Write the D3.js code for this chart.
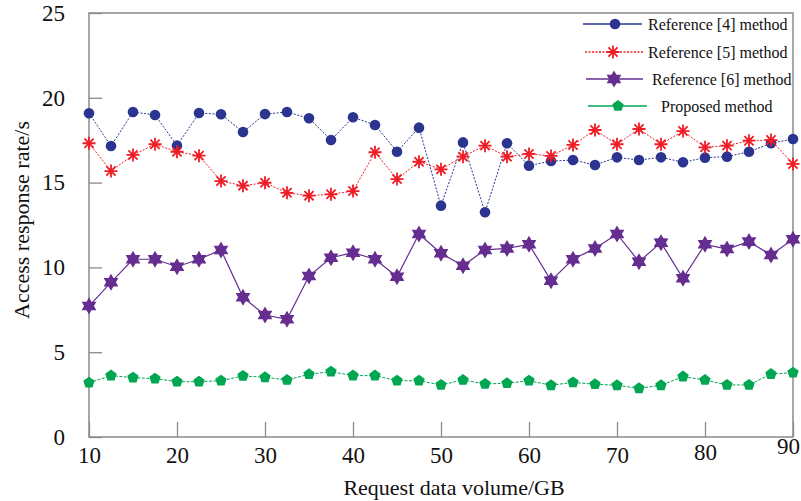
<!DOCTYPE html>
<html lang='en'>
  <head>
    <meta charset='utf-8'>
    <style>
      body { margin: 0; background: #fff; }
      svg { display: block; }
      svg text { font-family: "Liberation Serif", "Times New Roman", Times, serif !important; fill: #111; }
    </style>
  </head>
  <body>
    <div id='chart'></div>

    <script src='https://cdn.jsdelivr.net/npm/d3@7/dist/d3.min.js'></script>
    <script>
      // request volume (GB), one point every 2.5
      var volumes = [10, 12.5, 15, 17.5, 20, 22.5, 25, 27.5, 30, 32.5, 35, 37.5, 40, 42.5, 45, 47.5,
                     50, 52.5, 55, 57.5, 60, 62.5, 65, 67.5, 70, 72.5, 75, 77.5, 80, 82.5, 85, 87.5, 90];

      var ref4 = [19.09, 17.16, 19.16, 18.99, 17.18, 19.10, 19.03, 17.98, 19.04, 19.16, 18.79, 17.51, 18.85, 18.40, 16.82, 18.24,
                  13.64, 17.37, 13.25, 17.32, 16.00, 16.27, 16.33, 16.04, 16.49, 16.33, 16.49, 16.20, 16.47, 16.53, 16.82, 17.32, 17.57];
      var ref5 = [17.32, 15.68, 16.63, 17.26, 16.82, 16.59, 15.09, 14.82, 14.99, 14.40, 14.23, 14.31, 14.50, 16.79, 15.21, 16.23,
                  15.78, 16.53, 17.18, 16.53, 16.69, 16.57, 17.22, 18.10, 17.26, 18.16, 17.26, 18.04, 17.08, 17.18, 17.47, 17.51, 16.10];
      var ref6 = [7.72, 9.12, 10.48, 10.48, 10.04, 10.48, 11.03, 8.24, 7.19, 6.94, 9.49, 10.57, 10.87, 10.48, 9.45, 11.97,
                  10.83, 10.10, 11.03, 11.12, 11.36, 9.22, 10.48, 11.12, 11.97, 10.34, 11.46, 9.36, 11.36, 11.08, 11.52, 10.73, 11.66];
      var proposed = [3.20, 3.62, 3.50, 3.44, 3.26, 3.26, 3.32, 3.60, 3.52, 3.36, 3.70, 3.85, 3.62, 3.62, 3.32, 3.32,
                      3.07, 3.36, 3.13, 3.17, 3.32, 3.05, 3.22, 3.11, 3.05, 2.87, 3.05, 3.56, 3.36, 3.07, 3.07, 3.71, 3.79];

      var xTicks = [10, 20, 30, 40, 50, 60, 70, 80, 90];
      var yTicks = [0, 5, 10, 15, 20, 25];
      var seriesNames = ['Reference [4] method', 'Reference [5] method', 'Reference [6] method', 'Proposed method'];

      var width = 801, height = 501;
      var margin = {top: 13, right: 8, bottom: 64, left: 89};
      var iw = width - margin.left - margin.right,
          ih = height - margin.top - margin.bottom;

      var x = d3.scaleLinear().domain([10, 90]).range([0, iw]);
      var y = d3.scaleLinear().domain([0, 25]).range([ih, 0]);

      var svg = d3.select('#chart').append('svg')
          .attr('width', width)
          .attr('height', height);

      var g = svg.append('g')
          .attr('transform', 'translate(' + margin.left + ',' + margin.top + ')');

      // marker shapes
      function pentagon(r) {
        var pts = d3.range(5).map(function (i) {
          var a = -Math.PI / 2 + i * 2 * Math.PI / 5;
          return [r * Math.cos(a), r * Math.sin(a)];
        });
        return 'M' + pts.join('L') + 'Z';
      }
      function hexagram(r) {
        var pts = d3.range(12).map(function (i) {
          var a = -Math.PI / 2 + i * Math.PI / 6;
          var rr = i % 2 ? r * 0.58 : r;
          return [rr * Math.cos(a), rr * Math.sin(a)];
        });
        return 'M' + pts.join('L') + 'Z';
      }
      function asterisk(r) {
        var d = '';
        for (var i = 0; i < 4; i++) {
          var a = i * Math.PI / 4;
          var c = r * Math.cos(a), s = r * Math.sin(a);
          d += 'M' + (-c) + ',' + (-s) + 'L' + c + ',' + s;
        }
        return d;
      }

      var series = [
        {name: seriesNames[0], values: ref4, color: '#2b3590', dash: '2,1.5', width: 1,
         legendDash: null, marker: function (sel) { sel.append('circle').attr('r', 5.3).attr('fill', '#2b3590'); }},
        {name: seriesNames[1], values: ref5, color: '#ee1c25', dash: '2,1.5', width: 1,
         legendDash: '2,1.5', marker: function (sel) {
           sel.append('path').attr('d', asterisk(6.5)).attr('stroke', '#ee1c25').attr('stroke-width', 1.8).attr('fill', 'none');
         }},
        {name: seriesNames[2], values: ref6, color: '#662d91', dash: null, width: 1.2,
         legendDash: null, marker: function (sel) { sel.append('path').attr('d', hexagram(8.5)).attr('fill', '#662d91'); }},
        {name: seriesNames[3], values: proposed, color: '#00a651', dash: '3,1.5', width: 1,
         legendDash: null, marker: function (sel) { sel.append('path').attr('d', pentagon(6)).attr('fill', '#00a651'); }}
      ];

      // frame
      g.append('rect')
          .attr('width', iw).attr('height', ih)
          .attr('fill', 'none').attr('stroke', '#8a8a8a').attr('stroke-width', 1.5);

      // axes (ticks point inward)
      var yAxis = g.append('g')
          .call(d3.axisLeft(y).tickValues(yTicks).tickSize(-13).tickPadding(24).tickFormat(d3.format('d')));
      var xAxis = g.append('g')
          .attr('transform', 'translate(0,' + ih + ')')
          .call(d3.axisBottom(x).tickValues(xTicks).tickSize(-15).tickPadding(10).tickFormat(d3.format('d')));

      [xAxis, yAxis].forEach(function (a) {
        a.attr('font-family', null).attr('font-size', null);
        a.select('.domain').remove();
        a.selectAll('.tick line').attr('stroke', '#8a8a8a').attr('stroke-width', 1.3);
        a.selectAll('.tick text').attr('font-size', 23).attr('fill', '#111');
      });
      // the last two x labels sit a little higher in the original
      xAxis.selectAll('.tick text').filter(function (d) { return d === 90; }).attr('y', 1).attr('dx', -5);
      xAxis.selectAll('.tick text').filter(function (d) { return d === 80; }).attr('y', 7);

      // lines and markers
      series.forEach(function (s) {
        var line = d3.line()
            .x(function (d, i) { return x(volumes[i]); })
            .y(function (d) { return y(d); });
        g.append('path')
            .datum(s.values)
            .attr('d', line)
            .attr('fill', 'none')
            .attr('stroke', s.color)
            .attr('stroke-width', s.width)
            .attr('stroke-dasharray', s.dash);
        g.append('g').selectAll('g')
            .data(s.values)
          .enter().append('g')
            .attr('transform', function (d, i) { return 'translate(' + x(volumes[i]) + ',' + y(d) + ')'; })
            .each(function () { s.marker(d3.select(this)); });
      });

      // legend
      var legendRows = [
        {y: 24, x0: 583, x1: 642, mx: 615, tx: 648},
        {y: 52, x0: 585, x1: 643, mx: 613, tx: 648},
        {y: 79, x0: 586, x1: 643, mx: 614, tx: 652},
        {y: 106, x0: 588, x1: 647, mx: 618, tx: 661}
      ];
      var legend = svg.append('g');
      series.forEach(function (s, i) {
        var r = legendRows[i];
        legend.append('line')
            .attr('x1', r.x0).attr('x2', r.x1).attr('y1', r.y).attr('y2', r.y)
            .attr('stroke', s.color).attr('stroke-width', 1.3)
            .attr('stroke-dasharray', s.legendDash);
        var m = legend.append('g').attr('transform', 'translate(' + r.mx + ',' + r.y + ')');
        s.marker(m);
        legend.append('text')
            .attr('x', r.tx).attr('y', r.y).attr('dy', '0.35em')
            .attr('font-size', 16)
            .text(s.name);
      });

      // axis titles
      svg.append('text')
          .attr('transform', 'translate(29,' + 220 + ') rotate(-90)')
          .attr('text-anchor', 'middle')
          .attr('font-size', 22)
          .text('Access response rate/s');
      svg.append('text')
          .attr('x', 454).attr('y', 495)
          .attr('text-anchor', 'middle')
          .attr('font-size', 22)
          .text('Request data volume/GB');
    </script>
  </body>
</html>
